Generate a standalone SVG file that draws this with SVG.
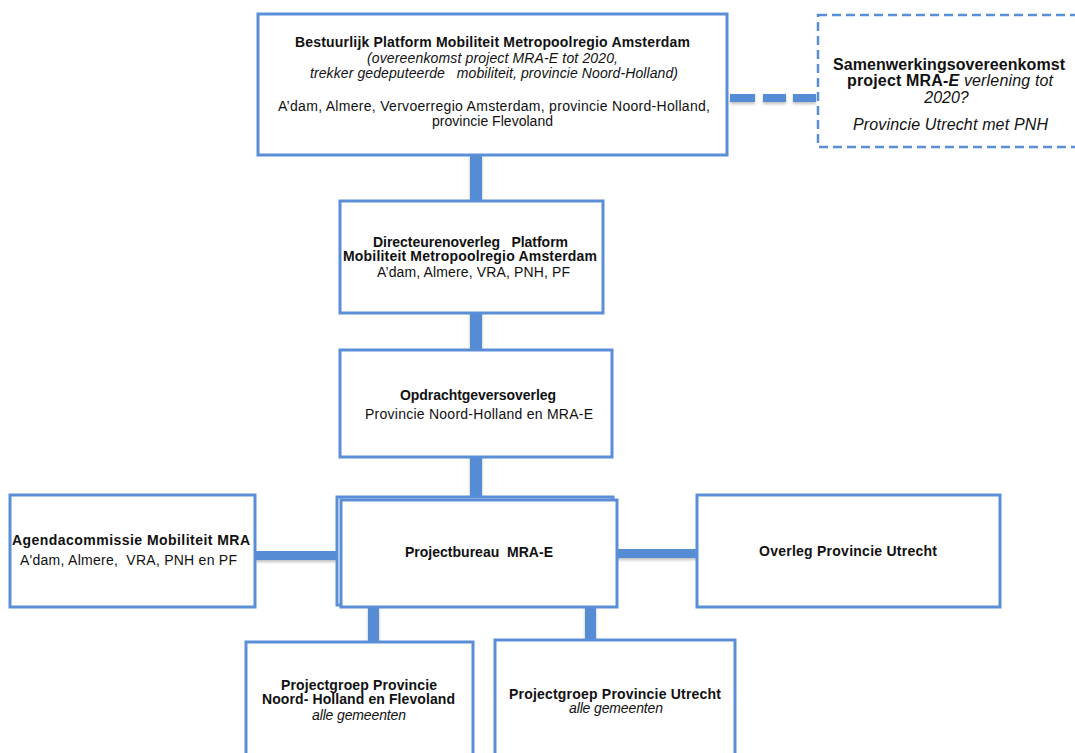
<svg xmlns="http://www.w3.org/2000/svg" width="1075" height="753" viewBox="0 0 1075 753">
<defs>
<filter id="sh" x="-20%" y="-20%" width="140%" height="160%">
<feDropShadow dx="0" dy="2" stdDeviation="1.5" flood-color="#000" flood-opacity="0.25"/>
</filter>
</defs>
<style>
.box{fill:#fff;stroke:#5a8fd8;stroke-width:3}
.dash{fill:#fff;stroke:#5a8fd8;stroke-width:2.5;stroke-dasharray:9 5}
.bar{fill:#558cd4;filter:url(#sh)}
text{font-family:"Liberation Sans",Arial,sans-serif;font-size:14px;fill:#111;text-anchor:middle}
.b{font-weight:bold}
.i{font-style:italic}
.big{font-size:16px}
</style>
<rect width="1075" height="753" fill="#fff"/>
<g id="connectors">
<rect class="bar" x="470" y="154" width="12" height="47"/>
<rect class="bar" x="470" y="312" width="12" height="38"/>
<rect class="bar" x="470" y="456" width="12" height="42"/>
<rect class="bar" x="255" y="551" width="83" height="9"/>
<rect class="bar" x="616" y="549" width="82" height="9"/>
<rect class="bar" x="368" y="606" width="11" height="36"/>
<rect class="bar" x="585" y="606" width="11" height="35"/>
<g class="bar">
<rect x="730" y="94" width="25" height="8"/>
<rect x="763" y="94" width="23" height="8"/>
<rect x="793" y="94" width="23" height="8"/>
</g>
</g>
<g id="bestuurlijk">
<rect class="box" x="258" y="14" width="469" height="141"/>
<text x="492.5" y="47" class="b" textLength="395" lengthAdjust="spacing">Bestuurlijk Platform Mobiliteit Metropoolregio Amsterdam</text>
<text x="492.5" y="63" class="i" textLength="251" lengthAdjust="spacing">(overeenkomst project MRA-E tot 2020,</text>
<text x="494" y="78" class="i" textLength="368" lengthAdjust="spacing" xml:space="preserve">trekker gedeputeerde   mobiliteit, provincie Noord-Holland)</text>
<text x="494" y="111" textLength="432" lengthAdjust="spacing">A’dam, Almere, Vervoerregio Amsterdam, provincie Noord-Holland,</text>
<text x="492.5" y="126" textLength="121" lengthAdjust="spacing">provincie Flevoland</text>
</g>
<g id="samenwerking">
<rect class="dash" x="818" y="15" width="275" height="132"/>
<text x="949" y="70" class="b big" textLength="232" lengthAdjust="spacing">Samenwerkingsovereenkomst</text>
<text x="950" y="86" class="big" textLength="206" lengthAdjust="spacing"><tspan class="b">project MRA-</tspan><tspan class="b i">E</tspan><tspan class="i">  verlening tot</tspan></text>
<text x="946.5" y="103" class="i big">2020?</text>
<text x="950.5" y="130" class="i big" textLength="195" lengthAdjust="spacing">Provincie Utrecht met PNH</text>
</g>
<g id="directeuren">
<rect class="box" x="340" y="201" width="263" height="112"/>
<text x="470.5" y="247" class="b" textLength="195" lengthAdjust="spacing" xml:space="preserve">Directeurenoverleg   Platform</text>
<text x="470" y="261" class="b" textLength="254" lengthAdjust="spacing">Mobiliteit Metropoolregio Amsterdam</text>
<text x="473.5" y="277" textLength="193" lengthAdjust="spacing">A’dam, Almere, VRA, PNH, PF</text>
</g>
<g id="opdrachtgevers">
<rect class="box" x="340" y="350" width="272" height="107"/>
<text x="478" y="400" class="b" textLength="156" lengthAdjust="spacing">Opdrachtgeversoverleg</text>
<text x="479" y="419" textLength="228" lengthAdjust="spacing">Provincie Noord-Holland en MRA-E</text>
</g>
<g id="agendacommissie">
<rect class="box" x="10" y="495" width="245" height="112"/>
<text x="131" y="545" class="b" textLength="238" lengthAdjust="spacing">Agendacommissie Mobiliteit MRA</text>
<text x="128.5" y="565" textLength="217" lengthAdjust="spacing" xml:space="preserve">A'dam, Almere,  VRA, PNH en PF</text>
</g>
<g id="projectbureau">
<rect class="box" x="337" y="497" width="276" height="108" stroke-width="2"/>
<rect class="box" x="341" y="500" width="276" height="107" stroke-width="2" fill="none"/>
<text x="479" y="557" class="b" textLength="148" lengthAdjust="spacing" xml:space="preserve">Projectbureau  MRA-E</text>
</g>
<g id="overleg-utrecht">
<rect class="box" x="697" y="495" width="303" height="112"/>
<text x="848" y="556" class="b" textLength="178" lengthAdjust="spacing">Overleg Provincie Utrecht</text>
</g>
<g id="projectgroep-nh">
<rect class="box" x="246" y="642" width="227" height="120"/>
<text x="359" y="690" class="b" textLength="156" lengthAdjust="spacing">Projectgroep Provincie</text>
<text x="358.5" y="704" class="b" textLength="193" lengthAdjust="spacing">Noord- Holland en Flevoland</text>
<text x="359" y="720" class="i" textLength="94" lengthAdjust="spacing">alle gemeenten</text>
</g>
<g id="projectgroep-utrecht">
<rect class="box" x="495" y="640" width="240" height="122"/>
<text x="615" y="699" class="b" textLength="212" lengthAdjust="spacing">Projectgroep Provincie Utrecht</text>
<text x="616" y="713" class="i" textLength="94" lengthAdjust="spacing">alle gemeenten</text>
</g>
</svg>
